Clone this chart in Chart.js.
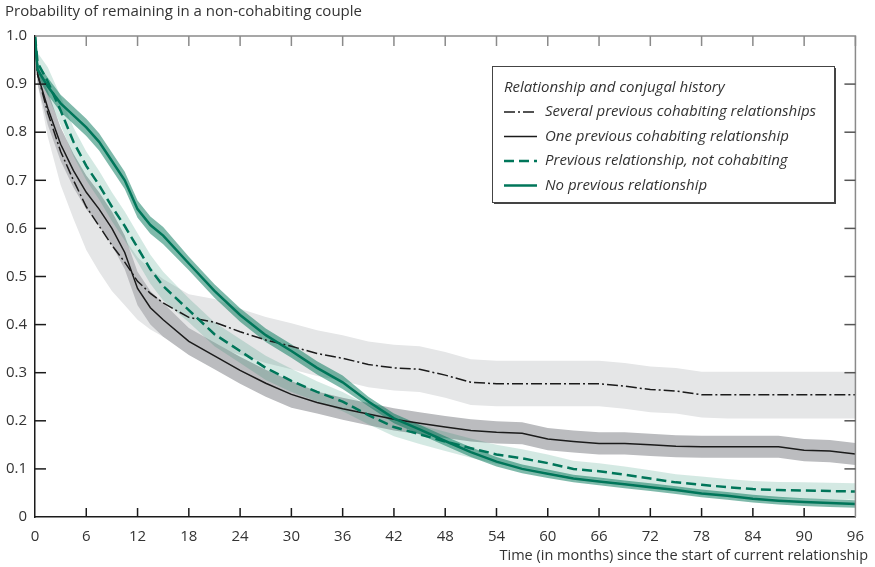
<!DOCTYPE html>
<html>
<head>
<meta charset="utf-8">
<script src="https://cdn.jsdelivr.net/npm/chart.js@4.4.1/dist/chart.umd.min.js"></script>
<style>
  html, body { margin: 0; padding: 0; background: #fff; }
</style>
</head>
<body>
<canvas id="myChart" width="875" height="567"></canvas>
<script>
const ctx = document.getElementById('myChart').getContext('2d');

// time in months
const months = [0, 0.3, 1.5, 3, 4.5, 6, 7.5, 9, 10.5, 12, 13.5, 15, 18, 21, 24, 27, 30, 33, 36, 39, 42, 45, 48, 51, 54, 57, 60, 63, 66, 69, 72, 75, 78, 81, 84, 87, 90, 93, 96];

// Several previous cohabiting relationships
const severalLine = [1.0, 0.92, 0.84, 0.76, 0.70, 0.645, 0.605, 0.565, 0.53, 0.49, 0.465, 0.445, 0.415, 0.405, 0.385, 0.368, 0.355, 0.34, 0.33, 0.317, 0.31, 0.307, 0.295, 0.28, 0.277, 0.277, 0.277, 0.277, 0.277, 0.272, 0.265, 0.262, 0.254, 0.254, 0.254, 0.254, 0.254, 0.254, 0.254];
const severalLow  = [1.0, 0.90, 0.79, 0.69, 0.62, 0.555, 0.51, 0.47, 0.44, 0.41, 0.39, 0.375, 0.358, 0.355, 0.337, 0.32, 0.307, 0.293, 0.283, 0.27, 0.263, 0.26, 0.248, 0.233, 0.23, 0.23, 0.23, 0.23, 0.23, 0.225, 0.218, 0.215, 0.207, 0.205, 0.205, 0.205, 0.205, 0.205, 0.205];
const severalHigh = [1.0, 0.94, 0.88, 0.81, 0.75, 0.695, 0.655, 0.615, 0.578, 0.54, 0.515, 0.495, 0.463, 0.453, 0.433, 0.416, 0.403, 0.388, 0.378, 0.365, 0.358, 0.355, 0.343, 0.328, 0.325, 0.325, 0.325, 0.325, 0.325, 0.32, 0.313, 0.31, 0.302, 0.302, 0.302, 0.302, 0.302, 0.302, 0.302];

// One previous cohabiting relationship
const oneLine = [1.0, 0.92, 0.85, 0.775, 0.72, 0.675, 0.64, 0.60, 0.55, 0.475, 0.435, 0.41, 0.365, 0.335, 0.305, 0.278, 0.255, 0.238, 0.225, 0.214, 0.203, 0.195, 0.187, 0.18, 0.176, 0.174, 0.162, 0.157, 0.153, 0.153, 0.15, 0.147, 0.146, 0.146, 0.146, 0.146, 0.139, 0.137, 0.131];
const oneLow  = [1.0, 0.90, 0.815, 0.74, 0.685, 0.64, 0.605, 0.565, 0.515, 0.44, 0.40, 0.375, 0.337, 0.307, 0.277, 0.25, 0.227, 0.215, 0.202, 0.191, 0.18, 0.172, 0.164, 0.157, 0.153, 0.151, 0.139, 0.134, 0.13, 0.13, 0.127, 0.124, 0.123, 0.123, 0.123, 0.123, 0.116, 0.114, 0.108];
const oneHigh = [1.0, 0.94, 0.885, 0.81, 0.755, 0.71, 0.675, 0.635, 0.585, 0.51, 0.47, 0.445, 0.393, 0.363, 0.333, 0.306, 0.283, 0.261, 0.248, 0.237, 0.226, 0.218, 0.21, 0.203, 0.199, 0.197, 0.185, 0.18, 0.176, 0.176, 0.173, 0.17, 0.169, 0.169, 0.169, 0.169, 0.162, 0.16, 0.154];

// Previous relationship, not cohabiting
const notCohabLine = [1.0, 0.945, 0.905, 0.845, 0.78, 0.73, 0.69, 0.645, 0.605, 0.56, 0.515, 0.48, 0.43, 0.38, 0.345, 0.31, 0.283, 0.26, 0.24, 0.212, 0.187, 0.172, 0.157, 0.143, 0.13, 0.122, 0.112, 0.10, 0.095, 0.088, 0.08, 0.072, 0.067, 0.062, 0.058, 0.056, 0.055, 0.054, 0.053];
const notCohabLow  = [1.0, 0.925, 0.875, 0.815, 0.75, 0.70, 0.66, 0.615, 0.575, 0.53, 0.485, 0.45, 0.405, 0.355, 0.32, 0.285, 0.26, 0.24, 0.22, 0.193, 0.168, 0.152, 0.137, 0.123, 0.11, 0.103, 0.094, 0.083, 0.078, 0.071, 0.063, 0.055, 0.05, 0.045, 0.041, 0.039, 0.038, 0.037, 0.036];
const notCohabHigh = [1.0, 0.965, 0.935, 0.875, 0.81, 0.76, 0.72, 0.675, 0.635, 0.59, 0.545, 0.51, 0.455, 0.405, 0.37, 0.335, 0.308, 0.282, 0.26, 0.232, 0.207, 0.192, 0.177, 0.163, 0.15, 0.141, 0.13, 0.117, 0.112, 0.105, 0.097, 0.089, 0.084, 0.079, 0.075, 0.073, 0.072, 0.071, 0.07];

// No previous relationship
const noPrevLine = [1.0, 0.93, 0.895, 0.86, 0.835, 0.81, 0.78, 0.74, 0.70, 0.64, 0.607, 0.585, 0.527, 0.47, 0.42, 0.378, 0.345, 0.31, 0.28, 0.24, 0.205, 0.182, 0.158, 0.135, 0.115, 0.10, 0.09, 0.08, 0.074, 0.068, 0.062, 0.056, 0.049, 0.044, 0.038, 0.034, 0.031, 0.029, 0.027];
const noPrevLow  = [1.0, 0.915, 0.878, 0.842, 0.817, 0.792, 0.762, 0.722, 0.682, 0.622, 0.589, 0.567, 0.513, 0.456, 0.406, 0.364, 0.331, 0.296, 0.266, 0.23, 0.195, 0.172, 0.148, 0.125, 0.105, 0.091, 0.081, 0.072, 0.066, 0.06, 0.054, 0.048, 0.041, 0.036, 0.03, 0.026, 0.023, 0.021, 0.019];
const noPrevHigh = [1.0, 0.945, 0.913, 0.878, 0.853, 0.828, 0.798, 0.758, 0.718, 0.658, 0.625, 0.603, 0.541, 0.484, 0.434, 0.392, 0.359, 0.324, 0.294, 0.25, 0.215, 0.192, 0.168, 0.145, 0.125, 0.109, 0.099, 0.088, 0.082, 0.076, 0.07, 0.064, 0.057, 0.052, 0.046, 0.042, 0.039, 0.037, 0.035];

const seriesNames = ['Several previous cohabiting relationships', 'One previous cohabiting relationship', 'Previous relationship, not cohabiting', 'No previous relationship'];
const legendTitle = 'Relationship and conjugal history';
const yTitle = 'Probability of remaining in a non-cohabiting couple';
const xTitle = 'Time (in months) since the start of current relationship';
const xTickValues = [0, 6, 12, 18, 24, 30, 36, 42, 48, 54, 60, 66, 72, 78, 84, 90, 96];
const yTickValues = [0, 0.1, 0.2, 0.3, 0.4, 0.5, 0.6, 0.7, 0.8, 0.9, 1.0];

const green = '#00765a';
const black = '#1b1b1b';
const textColor = '#333333';
const fontFamily = '"Open Sans", "Noto Sans", sans-serif';

const toPoints = (ys) => months.map((m, i) => ({x: m, y: ys[i]}));

function band(high, low, color, order) {
  return [
    {data: toPoints(high), borderWidth: 0, borderColor: 'rgba(0,0,0,0)', pointRadius: 0, backgroundColor: color, fill: '+1', order: order},
    {data: toPoints(low), borderWidth: 0, borderColor: 'rgba(0,0,0,0)', pointRadius: 0, fill: false, order: order},
  ];
}

const lineSets = [
  {label: seriesNames[0], data: toPoints(severalLine), borderColor: black, borderWidth: 1.5, borderDash: [11, 3, 2, 3], order: 4},
  {label: seriesNames[1], data: toPoints(oneLine), borderColor: black, borderWidth: 1.5, borderDash: [], order: 3},
  {label: seriesNames[2], data: toPoints(notCohabLine), borderColor: green, borderWidth: 2.5, borderDash: [10, 5], order: 2},
  {label: seriesNames[3], data: toPoints(noPrevLine), borderColor: green, borderWidth: 2.5, borderDash: [], order: 1},
];
lineSets.forEach(d => { d.pointRadius = 0; d.fill = false; d.tension = 0; });

// frame, inward ticks, titles
const framePlugin = {
  id: 'frame',
  afterDraw(chart) {
    const c = chart.ctx;
    const a = chart.chartArea;
    const xs = chart.scales.x, ys = chart.scales.y;
    c.save();
    c.lineWidth = 1.5;
    c.strokeStyle = '#8a8a8a';
    c.beginPath();
    c.moveTo(a.left, a.top); c.lineTo(a.right, a.top); c.lineTo(a.right, a.bottom);
    c.stroke();
    xTickValues.forEach(v => {
      const px = xs.getPixelForValue(v);
      if (v === 0) return;
      c.strokeStyle = '#8a8a8a';
      c.beginPath(); c.moveTo(px, a.top); c.lineTo(px, a.top + 10); c.stroke();
      if (v === 96) return;
      c.strokeStyle = black;
      c.beginPath(); c.moveTo(px, a.bottom); c.lineTo(px, a.bottom - 9); c.stroke();
    });
    yTickValues.forEach(v => {
      if (v === 0 || v === 1) return;
      const py = ys.getPixelForValue(v);
      c.strokeStyle = black;
      c.beginPath(); c.moveTo(a.left, py); c.lineTo(a.left + 11, py); c.stroke();
      c.strokeStyle = '#555';
      c.beginPath(); c.moveTo(a.right, py); c.lineTo(a.right - 11, py); c.stroke();
    });
    c.fillStyle = textColor;
    c.textBaseline = 'middle';
    c.textAlign = 'left';
    c.font = '15px ' + fontFamily;
    c.fillText(yTitle, 5, 12);
    c.textAlign = 'right';
    c.font = '14.5px ' + fontFamily;
    c.fillText(xTitle, 868, 556);
    c.restore();
  }
};

// legend box inside the plot
const legendBox = {
  id: 'legendBox',
  afterDraw(chart) {
    const c = chart.ctx;
    const x = 492, y = 66, w = 342, h = 136;
    c.save();
    c.fillStyle = '#444';
    c.fillRect(x + 2, y + 2, w, h);
    c.fillStyle = '#fff';
    c.fillRect(x, y, w, h);
    c.strokeStyle = '#444';
    c.lineWidth = 1;
    c.strokeRect(x + 0.5, y + 0.5, w, h);
    c.font = 'italic 15px ' + fontFamily;
    c.fillStyle = textColor;
    c.textBaseline = 'middle';
    c.fillText(legendTitle, x + 12, y + 22);
    lineSets.forEach((d, i) => {
      const ly = y + 46 + i * 24.5;
      c.strokeStyle = d.borderColor;
      c.lineWidth = d.borderWidth;
      c.setLineDash(d.borderDash);
      c.beginPath(); c.moveTo(x + 12, ly); c.lineTo(x + 45, ly); c.stroke();
      c.setLineDash([]);
      c.fillStyle = textColor;
      c.fillText(d.label, x + 53, ly);
    });
    c.restore();
  }
};

const myChart = new Chart(ctx, {
  type: 'line',
  data: {
    datasets: [
      ...band(severalHigh, severalLow, '#e5e6e7', 8),
      ...band(oneHigh, oneLow, '#bbbcbf', 7),
      ...band(notCohabHigh, notCohabLow, 'rgba(0,122,90,0.17)', 6),
      ...band(noPrevHigh, noPrevLow, 'rgba(0,118,88,0.5)', 5),
      ...lineSets,
    ]
  },
  options: {
    responsive: false,
    animation: false,
    layout: {padding: {left: 0, right: 12, top: 36, bottom: 0}},
    plugins: {
      legend: {display: false},
      tooltip: {enabled: false},
    },
    scales: {
      x: {
        type: 'linear',
        min: 0,
        max: 96,
        afterFit: (s) => { s.height = 50; },
        afterBuildTicks: (s) => { s.ticks = xTickValues.map(v => ({value: v})); },
        grid: {display: false, drawTicks: false},
        border: {display: true, color: black, width: 1.5},
        ticks: {color: textColor, padding: 11, maxRotation: 0, font: {family: fontFamily, size: 15}},
      },
      y: {
        min: 0,
        max: 1,
        afterFit: (s) => { s.width = 35; },
        afterBuildTicks: (s) => { s.ticks = yTickValues.map(v => ({value: v})); },
        grid: {display: false, drawTicks: false},
        border: {display: true, color: black, width: 1.5},
        ticks: {
          color: textColor,
          padding: 8,
          font: {family: fontFamily, size: 15},
          callback: (v) => v === 0 ? '0' : v.toFixed(1),
        },
      }
    }
  },
  plugins: [framePlugin, legendBox]
});
</script>
</body>
</html>
